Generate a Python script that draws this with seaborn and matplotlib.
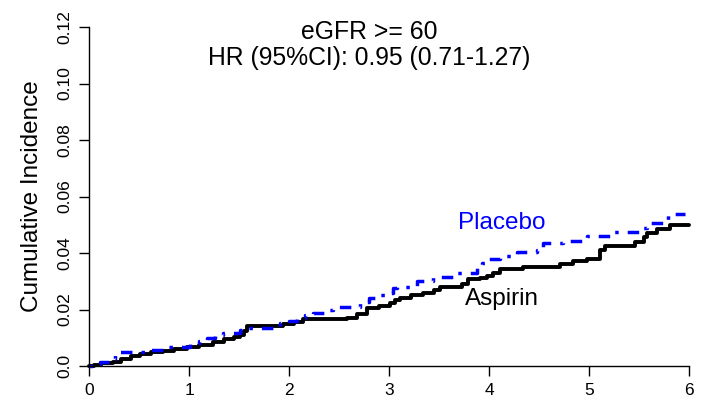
import numpy as np
import pandas as pd
import matplotlib
matplotlib.use("Agg")
import matplotlib.pyplot as plt
import seaborn as sns

# cumulative incidence step points (time in years, incidence)
aspirin_t = [0, 0.05, 0.12, 0.24, 0.32, 0.42, 0.51, 0.62, 0.74, 0.85, 0.98, 1.10, 1.24,
             1.35, 1.45, 1.51, 1.55, 1.58, 1.94, 2.05, 2.14, 2.58, 2.68, 2.78, 2.90,
             3.01, 3.06, 3.11, 3.22, 3.34, 3.45, 3.51, 3.73, 3.79, 3.91, 3.98, 4.04,
             4.11, 4.34, 4.71, 4.84, 4.98, 5.11, 5.16, 5.46, 5.55, 5.58, 5.68, 5.81, 6.0]
aspirin_y = [0, 0.0005, 0.001, 0.0015, 0.0025, 0.0035, 0.0042, 0.0048, 0.0054, 0.006,
             0.0068, 0.0075, 0.0086, 0.0095, 0.0103, 0.011, 0.0125, 0.0142, 0.0148,
             0.0155, 0.0165, 0.0171, 0.0185, 0.0205, 0.0212, 0.0223, 0.0232, 0.024,
             0.025, 0.026, 0.027, 0.028, 0.029, 0.0308, 0.0312, 0.032, 0.033, 0.0343,
             0.035, 0.0361, 0.0372, 0.038, 0.041, 0.0425, 0.044, 0.0455, 0.047, 0.0485,
             0.050, 0.050]

placebo_t = [0, 0.05, 0.11, 0.20, 0.26, 0.31, 0.58, 0.74, 1.01, 1.10, 1.18, 1.26, 1.34,
             1.51, 1.58, 1.91, 2.00, 2.08, 2.16, 2.24, 2.35, 2.44, 2.71, 2.80, 2.91,
             2.98, 3.04, 3.08, 3.28, 3.44, 3.68, 3.88, 3.93, 3.98, 4.11, 4.28, 4.48,
             4.54, 4.74, 4.98, 5.24, 5.50, 5.58, 5.79, 5.96]
placebo_y = [0, 0.0008, 0.0015, 0.0025, 0.004, 0.005, 0.0057, 0.0068, 0.008, 0.009,
             0.0099, 0.011, 0.0117, 0.0127, 0.0134, 0.0152, 0.016, 0.017, 0.018, 0.0188,
             0.020, 0.021, 0.0227, 0.024, 0.0251, 0.026, 0.0276, 0.028, 0.030, 0.0316,
             0.033, 0.035, 0.0365, 0.038, 0.039, 0.0404, 0.041, 0.0435, 0.0443, 0.046,
             0.0475, 0.049, 0.0506, 0.0538, 0.0538]

x_ticks = [0, 1, 2, 3, 4, 5, 6]
y_ticks = [0.0, 0.02, 0.04, 0.06, 0.08, 0.10, 0.12]
y_tick_labels = ["0.0", "0.02", "0.04", "0.06", "0.08", "0.10", "0.12"]

title_lines = ["eGFR >= 60", "HR (95%CI): 0.95 (0.71-1.27)"]

df = pd.concat([
    pd.DataFrame({"time": aspirin_t, "inc": aspirin_y, "group": "Aspirin"}),
    pd.DataFrame({"time": placebo_t, "inc": placebo_y, "group": "Placebo"}),
], ignore_index=True)

sns.set_style("ticks")
plt.rcParams['font.family'] = ['Liberation Sans', 'DejaVu Sans']
plt.rcParams['text.color'] = 'black'
plt.rcParams['axes.labelcolor'] = 'black'

fig = plt.figure(figsize=(7.12, 4.03), dpi=100)
ax = fig.add_axes([89 / 712, 1 - 366 / 403, 600 / 712, 339 / 403])

# solid black for aspirin drawn with thicker line
sns.lineplot(data=df[df.group == "Aspirin"], x="time", y="inc", color="black",
             estimator=None, drawstyle="steps-post", linewidth=2.8,
             legend=False, ax=ax, clip_on=False)
sns.lineplot(data=df[df.group == "Placebo"], x="time", y="inc", color="blue",
             estimator=None, drawstyle="steps-post", linewidth=2.5,
             dashes=False, linestyle=(0, (1, 2.6, 3.3, 2.6)),
             legend=False, ax=ax, clip_on=False)

ax.set_xlim(0, 6)
ax.set_ylim(0, 0.12)
ax.set_xticks(x_ticks)
ax.set_xticklabels([str(t) for t in x_ticks], fontsize=12.5)
ax.set_yticks(y_ticks)
ax.set_yticklabels(y_tick_labels, fontsize=12.5, rotation=90, va="center")
ax.tick_params(axis="both", direction="out", length=7, width=1, colors="black", pad=5)
ax.set_xlabel("")
ax.set_ylabel("Cumulative Incidence", fontsize=17.5, labelpad=10)
sns.despine(ax=ax)
for s in ["left", "bottom"]:
    ax.spines[s].set_linewidth(1)
    ax.spines[s].set_color("black")

ax.text(2.8, 0.1157, title_lines[0], ha="center", va="baseline", fontsize=17.8)
ax.text(2.8, 0.1066, title_lines[1], ha="center", va="baseline", fontsize=17.8)

ax.text(4.13, 0.0506, "Placebo", color="blue", ha="center", va="center", fontsize=17.5)
ax.text(4.13, 0.0237, "Aspirin", color="black", ha="center", va="center", fontsize=17.5)

fig.savefig("out.png", dpi=100)
